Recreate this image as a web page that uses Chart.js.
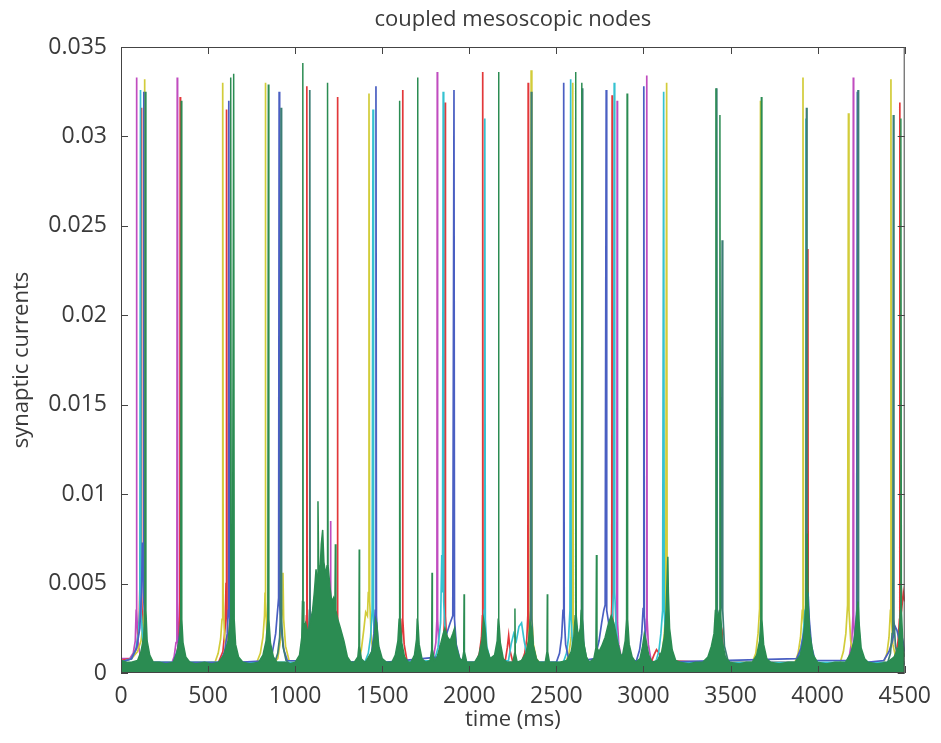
<!DOCTYPE html>
<html>
<head>
<meta charset="utf-8">
<script src="https://cdn.jsdelivr.net/npm/chart.js@4.4.1/dist/chart.umd.min.js"></script>
<style>
  html, body { margin: 0; padding: 0; background: #fff; }
</style>
</head>
<body>
<canvas id="chart" width="941" height="743"></canvas>
<script>
// axis ticks
const xTicks = [0, 500, 1000, 1500, 2000, 2500, 3000, 3500, 4000, 4500];
const yTicks = [0, 0.005, 0.01, 0.015, 0.02, 0.025, 0.03, 0.035];
const yTickLabels = ['0', '0.005', '0.01', '0.015', '0.02', '0.025', '0.03', '0.035'];

// [time ms, synaptic current], one list per node colour
const magenta = [
  [0,.0008],[50,.0008],[70,.0011],[82,.0018],[87,.0035],[89,.0333],[91,.0035],[97,.0018],[110,.001],[135,.0006],
  [290,.0005],[305,.0009],[316,.0017],[321,.0045],[323,.0333],[325,.004],[331,.0017],[345,.0009],[370,.0005],
  [1180,.0006],[1195,.0018],[1201,.004],[1203,.0085],[1205,.0035],[1215,.0015],[1240,.0006],
  [1780,.0005],[1796,.001],[1808,.0017],[1814,.003],[1816,.0336],[1818,.003],[1825,.0016],[1840,.0009],[1860,.0005],
  [2810,.0005],[2828,.001],[2840,.0018],[2847,.003],[2849,.032],[2851,.0028],[2858,.0016],[2872,.0009],[2895,.0005],
  [2985,.0005],[3000,.0011],[3011,.0018],[3017,.003],[3019,.0334],[3021,.003],[3028,.0016],[3042,.0008],[3065,.0005],
  [4165,.0005],[4183,.001],[4196,.0018],[4203,.0032],[4205,.0333],[4207,.003],[4214,.0016],[4228,.0008],[4250,.0005],[4500,.0005]
];
const red = [
  [0,.0007],[60,.0008],[90,.0014],[105,.003],[112,.0068],[115,.007],[117,.0316],[119,.0045],[126,.002],[140,.001],[165,.0006],
  [300,.0005],[320,.001],[332,.0018],[338,.0032],[340,.0322],[342,.003],[350,.0015],[365,.0008],[390,.0005],
  [560,.0006],[585,.0012],[598,.0025],[603,.005],[605,.005],[607,.0315],[609,.003],[618,.0015],[635,.0008],[660,.0005],
  [1030,.0005],[1050,.0012],[1060,.002],[1065,.0032],[1067,.0328],[1069,.003],[1076,.0016],[1090,.0008],[1110,.0005],
  [1205,.0006],[1225,.0012],[1236,.002],[1241,.0032],[1243,.0322],[1245,.003],[1252,.0015],[1268,.0008],[1290,.0005],
  [1580,.0005],[1598,.001],[1610,.0018],[1615,.003],[1617,.0326],[1619,.003],[1626,.0016],[1640,.0008],[1660,.0005],
  [1825,.0006],[1843,.0012],[1854,.0022],[1859,.0035],[1861,.0319],[1863,.0032],[1870,.0018],[1885,.0009],[1905,.0005],
  [2040,.0006],[2058,.0011],[2070,.002],[2075,.0032],[2077,.0336],[2079,.003],[2086,.0016],[2100,.0009],[2125,.0005],
  [2205,.0006],[2218,.0014],[2226,.0021],[2235,.0012],[2250,.0006],
  [2300,.0006],[2318,.0011],[2330,.0019],[2336,.0032],[2338,.033],[2340,.003],[2347,.0016],[2362,.0008],[2385,.0005],
  [2785,.0006],[2800,.0012],[2812,.002],[2818,.0038],[2820,.0323],[2822,.0035],[2830,.0018],[2845,.0009],[2865,.0005],
  [3040,.0005],[3060,.001],[3075,.0013],[3090,.0011],[3110,.0007],
  [3400,.0006],[3425,.0011],[3440,.0016],[3452,.0022],[3458,.0012],[3475,.0006],
  [3905,.0006],[3922,.0011],[3935,.0018],[3942,.003],[3944,.0237],[3946,.0028],[3953,.0014],[3968,.0008],[3990,.0005],
  [4430,.0006],[4450,.0011],[4462,.0018],[4470,.003],[4472,.0319],[4474,.003],[4482,.0035],[4492,.0045],[4500,.004]
];
const yellow = [
  [0,.0006],[60,.0008],[95,.0012],[115,.0018],[128,.0028],[133,.0035],[135,.0332],[137,.0035],[145,.0018],[160,.001],[185,.0006],
  [540,.0006],[558,.0011],[572,.0019],[580,.003],[583,.0045],[585,.033],[587,.004],[595,.002],[612,.001],[635,.0006],
  [780,.0006],[800,.0011],[815,.002],[824,.0032],[827,.0045],[829,.033],[831,.004],[838,.0022],[855,.0011],[880,.0006],
  [900,.0008],[915,.0018],[925,.0035],[930,.0056],[934,.003],[945,.0015],[965,.0007],
  [1360,.0006],[1380,.0013],[1395,.0025],[1405,.0034],[1415,.0032],[1420,.0045],[1424,.0324],[1428,.004],[1438,.0018],[1455,.0009],[1480,.0006],
  [2310,.0006],[2330,.0011],[2343,.002],[2351,.0035],[2355,.0337],[2359,.0032],[2368,.0016],[2385,.0008],[2410,.0005],
  [2555,.0006],[2572,.0011],[2585,.002],[2591,.0035],[2594,.033],[2597,.003],[2605,.0016],[2620,.0008],[2640,.0005],
  [3090,.0006],[3108,.0012],[3120,.0022],[3128,.0038],[3133,.033],[3136,.0035],[3145,.0018],[3160,.0009],[3185,.0005],
  [3625,.0006],[3645,.0011],[3658,.0022],[3667,.0036],[3672,.032],[3675,.003],[3683,.0015],[3700,.0008],[3720,.0005],
  [3870,.0006],[3888,.0011],[3902,.002],[3912,.0035],[3916,.0333],[3919,.003],[3927,.0015],[3945,.0008],[3965,.0005],
  [4130,.0006],[4148,.0012],[4162,.0022],[4172,.0038],[4177,.0313],[4180,.0035],[4190,.0018],[4205,.0009],[4225,.0005],
  [4380,.0006],[4398,.0011],[4410,.002],[4418,.0035],[4421,.0332],[4424,.003],[4432,.0016],[4450,.0008],[4500,.0006]
];
const blue = [
  [0,.0006],[60,.0008],[90,.0014],[108,.0025],[118,.0045],[123,.0073],[127,.0065],[130,.0325],[132,.004],[140,.0022],[155,.0011],[180,.0006],
  [300,.0006],[325,.0013],[340,.0025],[350,.0018],[365,.0009],[390,.0006],
  [570,.0006],[595,.0012],[610,.0022],[616,.0035],[619,.032],[622,.0035],[632,.0018],[650,.0009],[675,.0006],
  [850,.0007],[870,.0012],[888,.0022],[900,.0036],[905,.0042],[908,.0325],[911,.0038],[920,.0025],[935,.0013],[955,.0007],
  [1420,.0006],[1440,.0012],[1452,.0022],[1460,.0035],[1464,.0328],[1467,.0032],[1476,.0016],[1492,.0008],[1515,.0006],
  [1830,.0009],[1850,.0018],[1870,.0022],[1890,.0028],[1905,.0032],[1912,.0326],[1915,.003],[1925,.0016],[1945,.0008],[1965,.0006],
  [2500,.0006],[2518,.0011],[2530,.002],[2538,.0035],[2542,.033],[2545,.0032],[2553,.0016],[2570,.0008],[2590,.0006],
  [2720,.0008],[2745,.0018],[2760,.0028],[2772,.0035],[2780,.0038],[2786,.0326],[2789,.0035],[2800,.0028],[2820,.0018],[2845,.001],[2870,.0006],
  [2960,.0007],[2978,.0013],[2990,.0022],[2998,.0036],[3002,.0328],[3005,.0032],[3013,.0016],[3030,.0008],[3050,.0006],
  [3880,.0008],[3905,.0014],[3925,.0025],[3937,.0035],[3945,.0045],[3952,.003],[3965,.0015],[3985,.0007],
  [4180,.0007],[4200,.0013],[4215,.0022],[4224,.0035],[4228,.0325],[4231,.0032],[4240,.0016],[4258,.0008],[4280,.0006],
  [4380,.0007],[4410,.0012],[4430,.0018],[4445,.0026],[4455,.0024],[4465,.002],[4480,.0022],[4490,.0018],[4500,.0012]
];
const cyan = [
  [0,.0006],[60,.0008],[85,.0013],[100,.0022],[108,.0035],[112,.0326],[115,.0035],[125,.0018],[140,.0009],[165,.0006],
  [1400,.0006],[1420,.0011],[1433,.002],[1442,.0035],[1447,.0315],[1450,.003],[1460,.0015],[1478,.0008],[1500,.0006],
  [1800,.0007],[1820,.0014],[1835,.0028],[1842,.0066],[1846,.0045],[1850,.0325],[1853,.004],[1862,.0022],[1880,.001],[1905,.0006],
  [2050,.0006],[2068,.0011],[2080,.002],[2086,.0035],[2089,.031],[2092,.003],[2100,.0015],[2118,.0008],[2140,.0006],
  [2225,.0007],[2240,.0016],[2255,.0022],[2270,.0018],[2285,.0026],[2300,.0028],[2315,.0018],[2335,.0008],[2355,.0006],
  [2540,.0006],[2558,.0011],[2570,.002],[2578,.0035],[2582,.0332],[2585,.003],[2593,.0015],[2610,.0008],[2630,.0006],
  [2790,.0007],[2808,.0014],[2820,.0028],[2828,.0045],[2832,.033],[2835,.0045],[2843,.0025],[2860,.0012],[2885,.0006],
  [3070,.0006],[3088,.0012],[3100,.0022],[3110,.0035],[3116,.0325],[3119,.0035],[3128,.0018],[3145,.0009],[3170,.0006],
  [3880,.0006],[3900,.0012],[3915,.002],[3928,.0035],[3933,.031],[3936,.003],[3945,.0015],[3965,.0008],[3990,.0006],[4500,.0006]
];
const teal = [
  [0,.0005],[880,.0005],[900,.0011],[911,.002],[916,.0035],[919,.0316],[922,.003],[930,.0015],[948,.0007],[970,.0005],
  [1050,.0005],[1066,.0011],[1077,.002],[1082,.0035],[1084,.0326],[1086,.0035],[1094,.0018],[1110,.0009],[1130,.0005],
  [2315,.0005],[2333,.0011],[2345,.002],[2352,.0035],[2356,.0325],[2359,.003],[2367,.0015],[2385,.0007],[2405,.0005],
  [2610,.0005],[2628,.0012],[2638,.0022],[2644,.0035],[2648,.0327],[2651,.003],[2659,.0015],[2675,.0007],[2695,.0005],
  [3380,.0005],[3400,.0012],[3412,.0022],[3418,.0035],[3421,.0327],[3424,.0035],[3440,.003],[3448,.004],[3452,.0242],[3455,.0035],[3465,.0015],[3485,.0007],[3505,.0005],
  [3895,.0005],[3912,.0011],[3924,.002],[3932,.0035],[3936,.0316],[3939,.003],[3948,.0015],[3965,.0007],[3985,.0005],
  [4190,.0005],[4208,.0011],[4220,.002],[4228,.0035],[4232,.0326],[4235,.003],[4243,.0015],[4260,.0007],[4280,.0005],
  [4400,.0005],[4418,.0011],[4428,.0022],[4432,.0035],[4435,.0312],[4438,.003],[4447,.0015],[4465,.0007],[4500,.0005]
];
const green = [
  [0,.0007],[30,.0006],[60,.0006],[95,.0007],[115,.0012],[130,.002],[137,.0035],[140,.0325],[143,.0035],[150,.0018],[165,.001],[185,.0006],
  [220,.0006],[260,.0005],[300,.0006],[320,.0011],[336,.0019],[343,.003],[346,.032],[349,.003],[356,.0017],[372,.0009],[395,.0006],
  [430,.0005],[480,.0006],[520,.0005],[560,.0006],[590,.001],[615,.0018],[627,.003],[630,.0333],[633,.003],[640,.0035],[647,.0335],[650,.003],[658,.0016],[675,.0009],[700,.0006],
  [740,.0005],[790,.0006],[815,.001],[833,.0018],[843,.003],[846,.0329],[849,.003],[858,.0017],[875,.0009],[895,.0006],
  [940,.0006],[970,.0005],[1000,.0006],[1025,.001],[1038,.002],[1042,.004],[1044,.0341],[1046,.004],[1050,.0025],[1060,.0028],[1075,.0022],[1090,.003],[1100,.0035],[1110,.0045],[1120,.0058],[1127,.005],[1131,.0096],[1135,.006],[1142,.0055],[1150,.0072],[1158,.008],[1165,.0062],[1175,.0055],[1183,.006],[1186,.033],[1189,.006],[1200,.0048],[1210,.004],[1220,.0042],[1228,.0035],[1231,.0072],[1234,.0035],[1245,.003],[1260,.0025],[1280,.0018],[1300,.0009],[1320,.0006],
  [1340,.0006],[1360,.0009],[1366,.0015],[1368,.0069],[1370,.0015],[1380,.0008],[1400,.0006],
  [1410,.0007],[1440,.0012],[1455,.002],[1462,.003],[1468,.0028],[1480,.0015],[1500,.0008],[1525,.0006],
  [1555,.0006],[1575,.001],[1590,.0018],[1597,.003],[1600,.032],[1603,.003],[1612,.0017],[1628,.0009],[1650,.0006],
  [1665,.0006],[1685,.001],[1697,.0019],[1701,.003],[1703,.0333],[1705,.003],[1712,.0016],[1728,.0008],[1750,.0006],
  [1775,.0007],[1784,.0013],[1786,.0056],[1788,.0013],[1800,.0007],
  [1815,.0009],[1835,.0016],[1850,.0022],[1860,.0025],[1875,.002],[1890,.0018],[1905,.0022],[1915,.0025],[1925,.0015],[1945,.0008],
  [1960,.0007],[1968,.0012],[1970,.0044],[1972,.0012],[1985,.0006],
  [2030,.0006],[2055,.001],[2072,.0018],[2082,.003],[2090,.0025],[2100,.0014],[2120,.0008],
  [2145,.001],[2160,.0018],[2166,.003],[2168,.0336],[2170,.003],[2178,.0017],[2195,.0008],[2215,.0006],
  [2250,.0006],[2260,.0011],[2262,.0036],[2264,.0011],[2275,.0006],
  [2300,.0007],[2325,.0011],[2340,.0018],[2350,.0028],[2358,.0025],[2368,.0015],[2385,.0008],[2400,.0006],
  [2436,.0006],[2446,.0012],[2448,.0044],[2450,.0012],[2460,.0006],
  [2520,.0006],[2560,.0007],[2585,.0012],[2600,.002],[2608,.0032],[2611,.0336],[2614,.0032],[2625,.002],[2638,.0025],[2643,.0035],[2645,.033],[2647,.0035],[2655,.0018],[2672,.0009],[2690,.0006],
  [2715,.0008],[2727,.0014],[2730,.0066],[2733,.0014],[2745,.0012],
  [2760,.0015],[2780,.002],[2800,.0028],[2815,.0032],[2830,.0028],[2850,.0018],[2870,.001],
  [2880,.001],[2895,.0018],[2903,.003],[2906,.0324],[2909,.003],[2918,.0016],[2935,.0009],[2955,.0006],
  [2980,.0008],[2995,.0015],[3005,.0022],[3015,.0018],[3030,.001],[3050,.0006],
  [3080,.0007],[3105,.0012],[3120,.002],[3130,.0035],[3140,.0065],[3143,.0045],[3150,.0025],[3165,.0013],[3185,.0007],[3210,.0006],
  [3260,.0005],[3300,.0006],[3340,.0006],[3370,.0009],[3390,.0015],[3405,.0022],[3413,.0035],[3416,.0327],[3419,.0035],[3430,.003],[3436,.0035],[3439,.0312],[3442,.0035],[3452,.0018],[3470,.0009],[3495,.0006],
  [3550,.0005],[3590,.0006],[3625,.0006],[3650,.001],[3667,.0018],[3674,.003],[3677,.0322],[3680,.003],[3690,.0016],[3708,.0008],[3730,.0006],
  [3780,.0005],[3830,.0006],[3870,.0006],[3900,.001],[3918,.0018],[3928,.003],[3935,.0045],[3940,.0078],[3945,.004],[3955,.0022],[3975,.001],[4000,.0006],
  [4050,.0005],[4100,.0006],[4160,.0006],[4190,.0011],[4210,.0018],[4222,.003],[4232,.004],[4238,.0028],[4250,.0014],[4270,.0008],[4290,.0006],
  [4340,.0005],[4400,.0006],[4440,.0009],[4465,.0015],[4475,.0035],[4478,.031],[4481,.0035],[4490,.0015],[4500,.0009]
];

const FONT = '"Open Sans", "Noto Sans", sans-serif';
const TEXT = '#3a3a3a';

function toPoints(list) {
    return list.map(p => ({ x: p[0], y: p[1] }));
}

function line(label, list, color, order, fill) {
    return {
        label: label,
        data: toPoints(list),
        borderColor: color,
        backgroundColor: color,
        borderWidth: fill ? 1.5 : 1.7,
        pointRadius: 0,
        tension: 0,
        fill: fill ? 'origin' : false,
        order: order
    };
}

// MATLAB style box with inward ticks on all four sides
const boxPlugin = {
    id: 'box',
    afterDatasetsDraw(chart) {
        const { ctx, chartArea: a, scales } = chart;
        const len = 7;
        ctx.save();
        ctx.strokeStyle = '#444';
        ctx.lineWidth = 1;
        ctx.strokeRect(a.left + 0.5, a.top + 0.5, a.right - a.left - 1, a.bottom - a.top - 1);
        ctx.beginPath();
        xTicks.forEach(v => {
            const px = Math.round(scales.x.getPixelForValue(v)) + 0.5;
            ctx.moveTo(px, a.bottom); ctx.lineTo(px, a.bottom - len);
            ctx.moveTo(px, a.top); ctx.lineTo(px, a.top + len);
        });
        yTicks.forEach(v => {
            const py = Math.round(scales.y.getPixelForValue(v)) + 0.5;
            ctx.moveTo(a.left, py); ctx.lineTo(a.left + len, py);
            ctx.moveTo(a.right, py); ctx.lineTo(a.right - len, py);
        });
        ctx.stroke();
        ctx.restore();
    }
};

new Chart(document.getElementById('chart'), {
    type: 'line',
    data: {
        datasets: [
            line('node g', green, '#2b8c52', 0, true),
            line('node t', teal, '#3d7e76', 1, false),
            line('node b', blue, '#4a5fc2', 2, false),
            line('node c', cyan, '#35c2d0', 3, false),
            line('node y', yellow, '#d2cc3a', 4, false),
            line('node r', red, '#e2383a', 5, false),
            line('node m', magenta, '#c04cbf', 6, false)
        ]
    },
    options: {
        responsive: false,
        animation: false,
        layout: { padding: { left: 0, right: 27, top: 0, bottom: 0 } },
        plugins: {
            legend: { display: false },
            tooltip: { enabled: false },
            title: {
                display: true,
                fullSize: false,
                text: 'coupled mesoscopic nodes',
                color: TEXT,
                font: { family: FONT, size: 22, weight: 'normal' },
                padding: { top: 7, bottom: 13.6 }
            }
        },
        scales: {
            x: {
                type: 'linear',
                min: 0,
                max: 4500,
                afterBuildTicks: s => { s.ticks = xTicks.map(v => ({ value: v })); },
                afterFit: s => { s.height = 70; },
                grid: { display: false, drawTicks: false },
                border: { display: false },
                ticks: {
                    color: TEXT,
                    font: { family: FONT, size: 23 },
                    padding: 10,
                    maxRotation: 0,
                    autoSkip: false,
                    callback: v => String(v)
                },
                title: {
                    display: true,
                    text: 'time (ms)',
                    color: TEXT,
                    font: { family: FONT, size: 22 },
                    padding: { top: 0, bottom: 10 }
                }
            },
            y: {
                type: 'linear',
                min: 0,
                max: 0.035,
                afterBuildTicks: s => { s.ticks = yTicks.map(v => ({ value: v })); },
                afterFit: s => { s.width = 121; },
                grid: { display: false, drawTicks: false },
                border: { display: false },
                ticks: {
                    color: TEXT,
                    font: { family: FONT, size: 23 },
                    padding: 14,
                    autoSkip: false,
                    callback: (v, i) => yTickLabels[i]
                },
                title: {
                    display: true,
                    text: 'synaptic currents',
                    color: TEXT,
                    font: { family: FONT, size: 22 },
                    padding: { top: 9, bottom: 0 }
                }
            }
        }
    },
    plugins: [boxPlugin]
});
</script>
</body>
</html>
